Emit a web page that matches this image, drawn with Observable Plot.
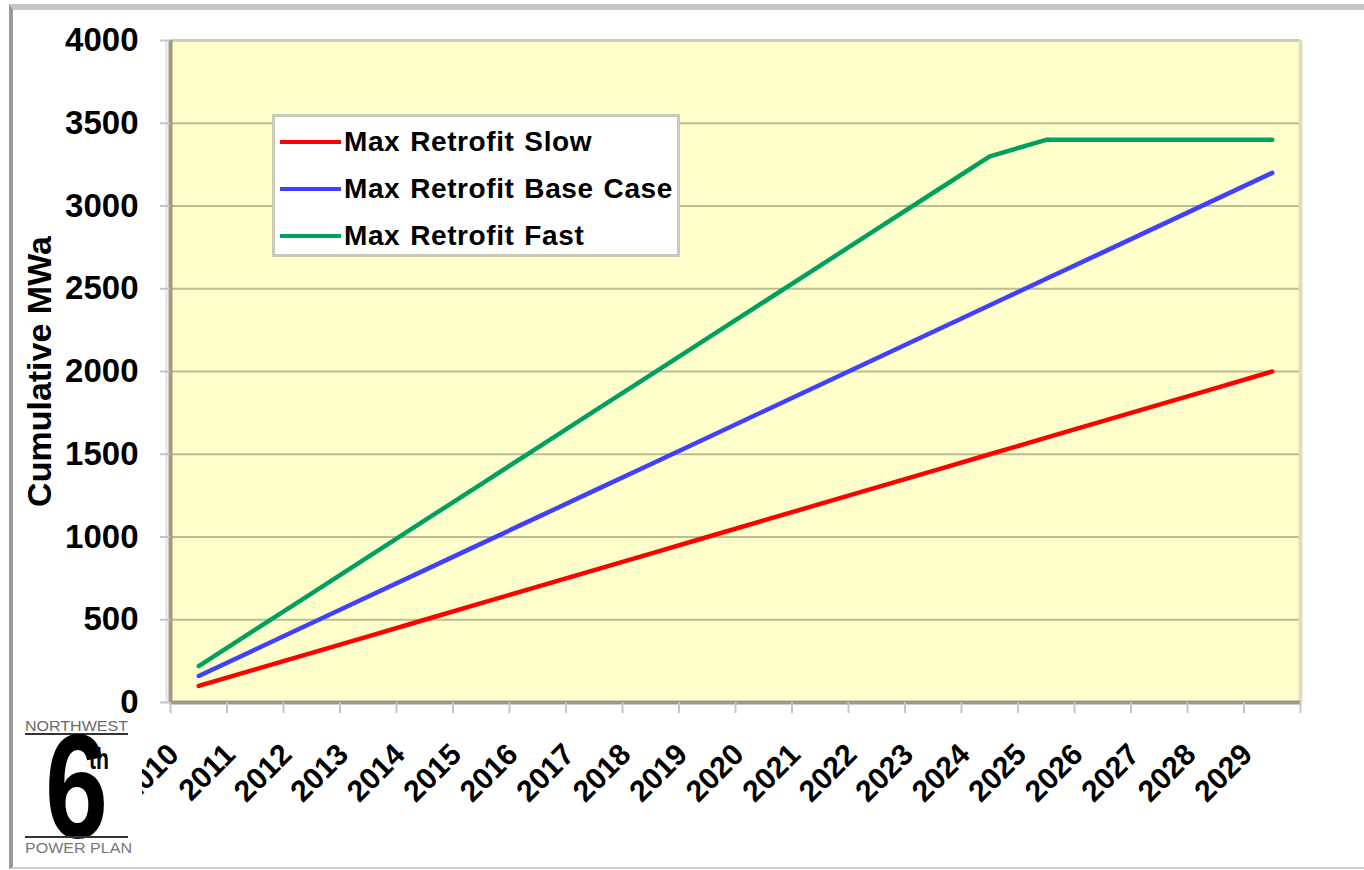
<!DOCTYPE html>
<html>
<head>
<meta charset="utf-8">
<script src="https://cdn.jsdelivr.net/npm/d3@7"></script>
<script src="https://cdn.jsdelivr.net/npm/@observablehq/plot@0.6"></script>
<style>
  body { margin: 0; background: #fff; }
  #wrap { position: relative; width: 1364px; height: 870px; overflow: hidden;
          font-family: "Liberation Sans", Arial, sans-serif; }
  #wrap svg.plot { position: absolute; left: 0; top: 0; }
  #edge { position: absolute; left: 9px; top: 4px; right: 0; bottom: 1px;
          border-top: 6px solid #c6c6c6; border-left: 4px solid #9a9a9a;
          border-bottom: 2px solid #d0d0d0; pointer-events: none; }
  #legend { position: absolute; left: 272px; top: 114px; width: 402px; height: 137px;
            background: #fff; border: 3px solid #cacabd; }
  .lg-row { position: absolute; left: 5px; height: 40px; display: flex; align-items: center; }
  .lg-swatch { width: 61px; height: 4px; margin-right: 3px; }
  .lg-text { font-size: 28px; font-weight: bold; color: #000; letter-spacing: 0.6px; word-spacing: 1.5px; white-space: nowrap; }
  #logo { position: absolute; left: 18px; top: 712px; width: 124px; height: 150px; }
  #logo svg { overflow: visible; }
</style>
</head>
<body>
<div id="wrap"></div>
<script>
// Annual cumulative savings for the three retrofit paces
const years = [2010, 2011, 2012, 2013, 2014, 2015, 2016, 2017, 2018, 2019,
               2020, 2021, 2022, 2023, 2024, 2025, 2026, 2027, 2028, 2029];
const slow = [100, 200, 300, 400, 500, 600, 700, 800, 900, 1000,
              1100, 1200, 1300, 1400, 1500, 1600, 1700, 1800, 1900, 2000];
const baseCase = [160, 320, 480, 640, 800, 960, 1120, 1280, 1440, 1600,
                  1760, 1920, 2080, 2240, 2400, 2560, 2720, 2880, 3040, 3200];
const fast = [220, 440, 660, 880, 1100, 1320, 1540, 1760, 1980, 2200,
              2420, 2640, 2860, 3080, 3300, 3400, 3400, 3400, 3400, 3400];

const seriesNames = ["Max Retrofit Slow", "Max Retrofit Base Case", "Max Retrofit Fast"];
const seriesColors = ["#ff0000", "#4040ff", "#00a060"];
const seriesValues = [slow, baseCase, fast];

const yTicks = [0, 500, 1000, 1500, 2000, 2500, 3000, 3500, 4000];
const yTitle = "Cumulative MWa";

// long-format rows for the line mark
const rows = [];
seriesNames.forEach((name, s) => {
  years.forEach((yr, i) => rows.push({ year: yr, value: seriesValues[s][i], series: name }));
});

// category boundaries carry the small x ticks; labels sit at category centres
const boundaries = years.map(y => y - 0.5).concat([years[years.length - 1] + 0.5]);

const chart = Plot.plot({
  width: 1364,
  height: 870,
  marginLeft: 170,
  marginRight: 64,
  marginTop: 40,
  marginBottom: 168,
  style: { fontFamily: '"Liberation Sans", Arial, sans-serif', fontWeight: "bold", color: "#000", background: "transparent" },
  x: { type: "linear", domain: [boundaries[0], boundaries[boundaries.length - 1]] },
  y: { domain: [yTicks[0], yTicks[yTicks.length - 1]] },
  color: { domain: seriesNames, range: seriesColors },
  marks: [
    Plot.frame({ fill: "#ffffcc", stroke: "none" }),
    Plot.gridY(yTicks, { stroke: "#bcbc92", strokeWidth: 2, strokeOpacity: 1 }),
    // plot-area border
    Plot.ruleY([yTicks[yTicks.length - 1]], { stroke: "#cfcfb6", strokeWidth: 3 }),
    Plot.ruleX([boundaries[boundaries.length - 1]], { stroke: "#dedec2", strokeWidth: 4 }),
    Plot.ruleX([boundaries[0]], { stroke: "#e2e2e2", strokeWidth: 2, dx: -4 }),
    Plot.lineY(rows, { x: "year", y: "value", z: "series", stroke: "series", strokeWidth: 4.5 }),
    Plot.ruleX([boundaries[0]], { stroke: "#9b9b84", strokeWidth: 4 }),
    Plot.ruleY([yTicks[0]], { stroke: "#9b9b84", strokeWidth: 4 }),
    // y axis
    Plot.axisY({ ticks: yTicks, tickSize: 10, tickPadding: 22, tickFormat: d => String(d),
                 stroke: "#c4c4c4", strokeWidth: 2,
                 fontSize: 33, fontWeight: "bold", fill: "#000", label: null }),
    // x ticks at category boundaries
    Plot.axisX({ ticks: boundaries, tickSize: 11, tickFormat: () => "", stroke: "#c4c4c4",
                 strokeWidth: 2, label: null }),
    // rotated year labels
    Plot.axisX({ ticks: years, tickSize: 0, tickPadding: 47, tickRotate: -45, tickFormat: d => String(d),
                 fontSize: 30, fontWeight: "bold", fill: "#000", dx: -25, label: null }),
    // y axis title
    Plot.text([yTitle], { frameAnchor: "left", rotate: -90, dx: -130, fontSize: 34, textAnchor: "middle",
                          fontWeight: "bold", fill: "#000", text: d => d })
  ]
});

const wrap = document.getElementById("wrap");
wrap.appendChild(chart);

// legend box inside the plot area
const legend = document.createElement("div");
legend.id = "legend";
seriesNames.forEach((name, i) => {
  const row = document.createElement("div");
  row.className = "lg-row";
  row.style.top = (5 + i * 47) + "px";
  const sw = document.createElement("div");
  sw.className = "lg-swatch";
  sw.style.background = seriesColors[i];
  const tx = document.createElement("span");
  tx.className = "lg-text";
  tx.textContent = name;
  row.appendChild(sw);
  row.appendChild(tx);
  legend.appendChild(row);
});
wrap.appendChild(legend);

// Northwest 6th Power Plan mark
const logo = document.createElement("div");
logo.id = "logo";
logo.innerHTML = `
<svg width="124" height="150" viewBox="0 0 124 150" font-family="Liberation Sans, Arial, sans-serif">
  <rect x="0" y="6" width="124" height="150" fill="#fff"/>
  <text x="7" y="19" font-size="14" fill="#6a6a6a" textLength="103" lengthAdjust="spacingAndGlyphs">NORTHWEST</text>
  <line x1="7" x2="110" y1="22" y2="22" stroke="#333" stroke-width="2"/>
  <text x="27" y="126" font-size="148" font-weight="bold" fill="#000" textLength="63" lengthAdjust="spacingAndGlyphs">6</text>
  <text x="71" y="57" font-size="30" font-weight="bold" fill="#000" textLength="20" lengthAdjust="spacingAndGlyphs">th</text>
  <line x1="7" x2="110" y1="125" y2="125" stroke="#333" stroke-width="2"/>
  <text x="7" y="141" font-size="14" fill="#777" textLength="107" lengthAdjust="spacingAndGlyphs">POWER PLAN</text>
</svg>`;
wrap.appendChild(logo);

const edge = document.createElement("div");
edge.id = "edge";
wrap.appendChild(edge);
</script>
</body>
</html>
